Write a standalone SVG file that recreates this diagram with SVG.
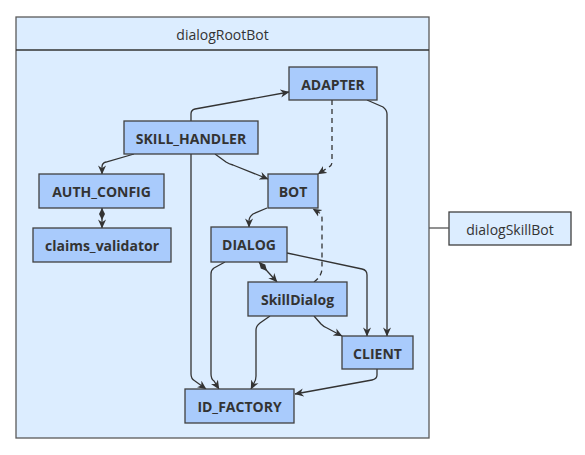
<svg xmlns="http://www.w3.org/2000/svg" width="585" height="455" viewBox="0 0 585 455">
<style>
.frame{fill:#dcedff;stroke:#5a5a5a;stroke-width:1.3}
.node rect{fill:#a9cbfc;stroke:#404040;stroke-width:1.3}
.node text{font-family:"Open Sans","Noto Sans",sans-serif;font-size:14px;font-weight:bold;fill:#333;text-anchor:middle;dominant-baseline:central}
.lbl{font-family:"Open Sans","Noto Sans",sans-serif;font-size:14px;fill:#333;text-anchor:middle;dominant-baseline:central}
.e{fill:none;stroke:#333;stroke-width:1.3;marker-end:url(#arr)}
.d{stroke-dasharray:5,4}
.plain{fill:none;stroke:#555;stroke-width:1.3}
</style>
<defs>
<marker id="arr" viewBox="0 0 10 10" refX="9.5" refY="5" markerWidth="9" markerHeight="9" markerUnits="userSpaceOnUse" orient="auto">
<path d="M0,0.5 L10,5 L0,9.5 L3,5 Z" fill="#333"/>
</marker>
<marker id="dia" viewBox="0 0 12 8" refX="0" refY="4" markerWidth="12" markerHeight="8" markerUnits="userSpaceOnUse" orient="auto">
<path d="M0,4 L6,1 L12,4 L6,7 Z" fill="#333"/>
</marker>
</defs>
<g id="dialogRootBot">
<rect class="frame" x="16" y="17" width="413" height="421"/>
<line x1="16" y1="50" x2="429" y2="50" stroke="#333" stroke-width="1.3"/>
<text class="lbl" x="222.5" y="34">dialogRootBot</text>
</g>
<g id="dialogSkillBot">
<rect x="449" y="212" width="122" height="33" fill="#dcedff" stroke="#404040" stroke-width="1.3"/>
<text class="lbl" x="510" y="229">dialogSkillBot</text>
</g>
<g id="connectors">
<line class="plain" x1="429" y1="228" x2="449" y2="228"/>
<path class="e" d="M191,121 L191,114 Q191,110 195,109 L289,92"/>
<path class="e" d="M191,154 L191,374 Q191,379 195,381 L206,389"/>
<path class="e" d="M134,154 L106,162 Q102,163 102,167 L102,174"/>
<path class="e" d="M215,154 L226,162 Q229,164 233,165 L268,179"/>
<path class="e d" d="M332,100 L332,162 Q332,165 329,167 L318,174"/>
<path class="e" d="M367,100 L383,107 Q387,110 387,114 L387,336"/>
<path class="e" d="M267,208 L253,214 Q249,217 249,221 L249,227"/>
<path class="e d" d="M314,282 Q322,276 322,268 L322,218 Q322,214 318,212 L313,209"/>
<path class="e" d="M287,253 L362,269 Q367,270 367,275 L367,336"/>
<path class="e" d="M259,262 L277,282" marker-start="url(#dia)"/>
<path class="e" d="M225,262 L214,268 Q211,270 211,274 L211,374 Q211,379 214,381 L219,389"/>
<path class="e" d="M270,316 L260,323 Q256,326 256,330 L256,376 Q256,380 254,383 L251,389"/>
<path class="e" d="M314,316 L321,324 Q324,327 327,328 L342,336"/>
<path class="e" d="M377,369 L377,375 Q377,379 372,380 L295,394"/>
<path class="e" d="M102,208 L102,228" marker-start="url(#dia)"/>
</g>
<g id="ADAPTER" class="node"><rect x="289" y="67" width="88" height="33"/><text x="333" y="84">ADAPTER</text></g>
<g id="SKILL_HANDLER" class="node"><rect x="124" y="121" width="134" height="33"/><text x="191" y="138">SKILL_HANDLER</text></g>
<g id="AUTH_CONFIG" class="node"><rect x="39" y="174" width="125" height="34"/><text x="101.5" y="191">AUTH_CONFIG</text></g>
<g id="BOT" class="node"><rect x="268" y="174" width="50" height="34"/><text x="293" y="191">BOT</text></g>
<g id="claims_validator" class="node"><rect x="33" y="228" width="138" height="34"/><text x="102" y="245">claims_validator</text></g>
<g id="DIALOG" class="node"><rect x="211" y="227" width="76" height="35"/><text x="249" y="244.5">DIALOG</text></g>
<g id="SkillDialog" class="node"><rect x="248" y="282" width="99" height="34"/><text x="297.5" y="299">SkillDialog</text></g>
<g id="CLIENT" class="node"><rect x="342" y="336" width="71" height="33"/><text x="377.5" y="353">CLIENT</text></g>
<g id="ID_FACTORY" class="node"><rect x="185" y="389" width="109" height="34"/><text x="239.5" y="406">ID_FACTORY</text></g>
</svg>
